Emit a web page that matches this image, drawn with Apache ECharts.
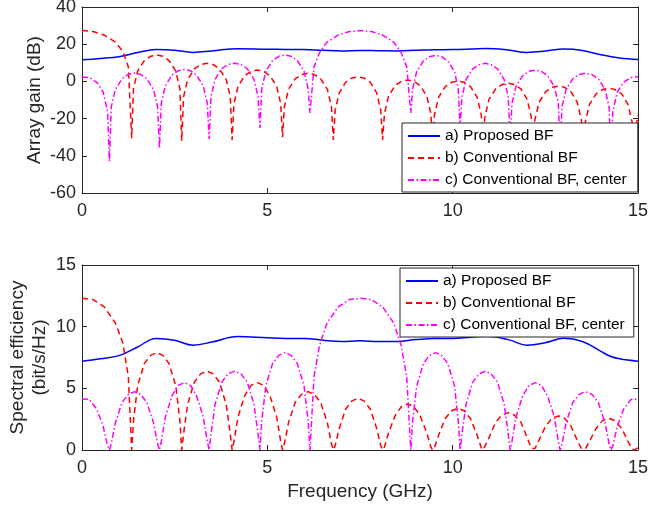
<!DOCTYPE html>
<html lang="en">
<head>
    <meta charset="UTF-8">
    <title>Array gain and spectral efficiency</title>
    <style>
        * {
            margin: 0;
            padding: 0;
        }

        body {
            background-color: #fff;
        }

        #chart {
            width: 648px;
            height: 509px;
        }
    </style>
</head>
<body>
<div id="chart"></div>
<script src="https://cdn.jsdelivr.net/npm/echarts@6/dist/echarts.min.js"></script>
<script>
    // a) proposed BF
    var freqProp = [0, 0.5, 1.0, 1.5, 2.0, 2.5, 3.0, 3.5, 4.2, 5.0, 5.5, 6.0, 6.5, 7.0, 7.5, 8.0, 8.5, 9.0, 9.5,
        10.0, 10.5, 10.9, 11.5, 12.0, 12.5, 13.0, 13.5, 14.0, 14.25, 14.5, 15];
    var gainProp = [11.6, 12.3, 13.3, 15.5, 17.2, 16.8, 15.6, 16.4, 17.6, 17.3, 17.2, 17.1, 16.7, 16.4, 16.6, 16.5,
        16.4, 16.7, 17.0, 17.1, 17.4, 17.7, 16.9, 15.6, 16.3, 17.4, 16.6, 14.3, 13.4, 12.6, 11.8];
    var seProp = [7.2, 7.4, 7.65, 8.35, 9.05, 8.9, 8.5, 8.75, 9.2, 9.1, 9.05, 9.05, 8.9, 8.8, 8.85, 8.8,
        8.8, 8.95, 9.05, 9.05, 9.15, 9.22, 8.95, 8.5, 8.7, 9.06, 8.8, 8.0, 7.6, 7.4, 7.2];

    // b) conventional BF
    var freqConv = [0, 0.3, 0.6, 0.9, 1.1, 1.25, 1.34,
        1.39, 1.50, 1.68, 1.85, 2.02, 2.18, 2.35, 2.53, 2.64, 2.69,
        2.74, 2.85, 3.03, 3.20, 3.37, 3.54, 3.71, 3.89, 4.00, 4.05,
        4.10, 4.21, 4.39, 4.56, 4.73, 4.90, 5.07, 5.25, 5.36, 5.41,
        5.46, 5.57, 5.75, 5.92, 6.10, 6.27, 6.44, 6.62, 6.73, 6.78,
        6.83, 6.94, 7.11, 7.28, 7.45, 7.61, 7.78, 7.95, 8.06, 8.11,
        8.16, 8.27, 8.45, 8.62, 8.79, 8.95, 9.12, 9.30, 9.41, 9.46,
        9.51, 9.62, 9.80, 9.97, 10.14, 10.31, 10.48, 10.66, 10.77, 10.82,
        10.87, 10.98, 11.16, 11.33, 11.50, 11.66, 11.84, 12.01, 12.12, 12.17,
        12.22, 12.33, 12.51, 12.68, 12.85, 13.02, 13.19, 13.36, 13.47, 13.52,
        13.58, 13.69, 13.87, 14.04, 14.21, 14.38, 14.56, 14.73, 14.84, 14.90, 15];
    var gainConv = [27.3, 26.8, 24.9, 21.1, 16.2, 7.8, -30.5,
        -3.8, 5.5, 11.2, 13.5, 14.2, 13.5, 11.2, 5.5, -3.8, -32,
        -8.3, 1.0, 6.7, 9.0, 9.7, 9.0, 6.7, 1.0, -8.3, -31.5,
        -11.9, -2.6, 3.1, 5.4, 6.1, 5.4, 3.1, -2.6, -11.9, -30,
        -13.6, -4.3, 1.4, 3.7, 4.4, 3.7, 1.4, -4.3, -13.6, -31.5,
        -15.5, -6.2, -0.5, 1.8, 2.5, 1.8, -0.5, -6.2, -15.5, -31.5,
        -17.2, -7.9, -2.2, 0.1, 0.8, 0.1, -2.2, -7.9, -17.2, -30,
        -17.8, -8.5, -2.8, -0.5, 0.2, -0.5, -2.8, -8.5, -17.8, -30,
        -19, -9.7, -4, -1.7, -1.0, -1.7, -4, -9.7, -19, -30,
        -20.5, -11.2, -5.5, -3.2, -2.5, -3.2, -5.5, -11.2, -20.5, -30,
        -21.7, -12.4, -6.7, -4.4, -3.7, -4.4, -6.7, -12.4, -21.7, -30, -18];
    var seConv = [12.3, 12.2, 11.6, 10.3, 8.7, 5.95, 0,
        2.4, 5.2, 7.0, 7.67, 7.9, 7.67, 7.0, 5.2, 2.4, 0,
        1.3, 3.7, 5.5, 6.17, 6.4, 6.17, 5.5, 3.7, 1.3, 0,
        0.7, 2.7, 4.4, 5.24, 5.46, 5.24, 4.4, 2.7, 0.7, 0,
        0.5, 2.2, 3.85, 4.51, 4.73, 4.51, 3.85, 2.2, 0.5, 0,
        0.36, 1.75, 3.3, 3.98, 4.19, 3.98, 3.3, 1.75, 0.36, 0,
        0.25, 1.4, 2.8, 3.53, 3.73, 3.53, 2.8, 1.4, 0.25, 0,
        0.2, 1.2, 2.55, 3.18, 3.38, 3.18, 2.55, 1.2, 0.2, 0,
        0.16, 1.0, 2.25, 2.84, 3.03, 2.84, 2.25, 1.0, 0.16, 0,
        0.12, 0.8, 1.95, 2.57, 2.76, 2.57, 1.95, 0.8, 0.12, 0,
        0.1, 0.7, 1.75, 2.38, 2.57, 2.38, 1.75, 0.7, 0.1, 0, 0.2];

    // c) conventional BF, center
    var freqCent = [0, 0.2, 0.4, 0.57, 0.69, 0.74,
        0.79, 0.90, 1.08, 1.25, 1.42, 1.58, 1.75, 1.93, 2.04, 2.09,
        2.14, 2.25, 2.43, 2.59, 2.76, 2.93, 3.09, 3.27, 3.38, 3.43,
        3.48, 3.59, 3.77, 3.94, 4.12, 4.29, 4.46, 4.64, 4.75, 4.80,
        4.85, 4.96, 5.14, 5.31, 5.48, 5.64, 5.81, 5.99, 6.10, 6.15,
        6.26, 6.41, 6.61, 6.91, 7.21, 7.51, 7.81, 8.11, 8.41, 8.61, 8.76, 8.87,
        8.92, 9.03, 9.21, 9.37, 9.54, 9.70, 9.87, 10.05, 10.15, 10.20,
        10.25, 10.36, 10.54, 10.71, 10.88, 11.04, 11.21, 11.39, 11.50, 11.55,
        11.60, 11.71, 11.89, 12.06, 12.23, 12.39, 12.56, 12.74, 12.85, 12.90,
        12.95, 13.06, 13.24, 13.41, 13.58, 13.76, 13.93, 14.11, 14.22, 14.27,
        14.32, 14.44, 14.61, 14.81, 15];
    var gainCent = [2.4, 2.1, -0.5, -5.7, -16.2, -43,
        -13.6, -4.3, 1.4, 3.8, 4.5, 3.8, 1.4, -4.3, -13.6, -36,
        -11.6, -2.3, 3.4, 5.7, 6.4, 5.7, 3.4, -2.3, -11.6, -31,
        -8.2, 1.1, 6.8, 9.1, 9.8, 9.1, 6.8, 1.1, -8.2, -25,
        -3.8, 5.5, 11.2, 13.5, 14.2, 13.5, 11.2, 5.5, -3.8, -17,
        7.8, 15.5, 21.1, 24.9, 26.8, 27.3, 26.8, 24.9, 21.1, 15.5, 7.8, -17,
        -4, 5.3, 11.0, 13.3, 14.0, 13.3, 11.0, 5.3, -4, -25,
        -8.3, 1.0, 6.7, 9.0, 9.7, 9.0, 6.7, 1.0, -8.3, -31,
        -11.9, -2.6, 3.1, 5.4, 6.1, 5.4, 3.1, -2.6, -11.9, -36,
        -13.6, -4.3, 1.4, 3.7, 4.4, 3.7, 1.4, -4.3, -13.6, -43,
        -16.2, -5.7, -0.5, 2.1, 2.5];
    var seCent = [4.13, 4.1, 3.3, 1.92, 0.33, 0,
        0.5, 2.2, 3.85, 4.51, 4.73, 4.51, 3.85, 2.2, 0.5, 0,
        0.7, 2.7, 4.4, 5.24, 5.46, 5.24, 4.4, 2.7, 0.7, 0,
        1.3, 3.7, 5.5, 6.17, 6.4, 6.17, 5.5, 3.7, 1.3, 0,
        2.4, 5.2, 7.0, 7.67, 7.9, 7.67, 7.0, 5.2, 2.4, 0,
        5.95, 8.5, 10.3, 11.6, 12.2, 12.3, 12.2, 11.6, 10.3, 8.5, 5.95, 0,
        2.4, 5.2, 7.0, 7.67, 7.9, 7.67, 7.0, 5.2, 2.4, 0,
        1.3, 3.7, 5.5, 6.17, 6.4, 6.17, 5.5, 3.7, 1.3, 0,
        0.7, 2.7, 4.4, 5.24, 5.46, 5.24, 4.4, 2.7, 0.7, 0,
        0.5, 2.2, 3.85, 4.51, 4.73, 4.51, 3.85, 2.2, 0.5, 0,
        0.33, 1.92, 3.3, 4.1, 4.13];

    var names = ['a) Proposed BF', 'b) Conventional BF', 'c) Conventional BF, center'];

    function pairs(xs, ys) {
        return xs.map(function (x, i) {
            return [x, ys[i]];
        });
    }

    var axisColor = '#262626';
    var font = '"Liberation Sans", Arial, Helvetica, sans-serif';

    function xAx(grid, pos, showLabel, extra) {
        var a = {
            type: 'value', gridIndex: grid, position: pos, min: 0, max: 15, interval: 5,
            axisLine: {show: true, onZero: false, lineStyle: {color: axisColor, width: 1}},
            axisTick: {show: true, inside: true, length: 5, lineStyle: {color: axisColor}},
            axisLabel: {show: showLabel, color: axisColor, fontSize: 18, fontFamily: font, margin: 9},
            splitLine: {show: false}
        };
        return Object.assign(a, extra || {});
    }

    function yAx(grid, pos, min, max, step, showLabel, extra) {
        var a = {
            type: 'value', gridIndex: grid, position: pos, min: min, max: max, interval: step,
            axisLine: {show: true, onZero: false, lineStyle: {color: axisColor, width: 1}},
            axisTick: {show: true, inside: true, length: 5, lineStyle: {color: axisColor}},
            axisLabel: {show: showLabel, color: axisColor, fontSize: 18, fontFamily: font, margin: 6},
            splitLine: {show: false}
        };
        return Object.assign(a, extra || {});
    }

    var styles = [
        {color: '#0000ff', width: 1.5, type: 'solid'},
        {color: '#ff0000', width: 1.5, type: [6, 4]},
        {color: '#ff00ff', width: 1.5, type: [6, 2.5, 1.5, 2.5]}
    ];

    function lineSeries(i, grid, data) {
        return {
            name: names[i], type: 'line', xAxisIndex: grid, yAxisIndex: grid,
            data: data, showSymbol: false, symbol: 'none', animation: false,
            smooth: i === 0 ? 0.4 : false,
            lineStyle: styles[i], itemStyle: {color: styles[i].color}
        };
    }

    function legendAt(left, top, padRight) {
        return {
            data: names, orient: 'vertical', left: left, top: top,
            itemWidth: 32, itemHeight: 14, itemGap: 6,
            padding: [5, padRight, 4, 5],
            backgroundColor: '#fff', borderColor: axisColor, borderWidth: 1, borderRadius: 0,
            itemStyle: {opacity: 0},
            textStyle: {fontSize: 15.5, fontFamily: font, color: '#000'},
            selectedMode: false
        };
    }

    var chart = echarts.init(document.getElementById('chart'));
    chart.setOption({
        backgroundColor: '#fff',
        animation: false,
        grid: [
            {left: 82, top: 7, width: 556, height: 186, outerBoundsMode: 'none', containLabel: false},
            {left: 82, top: 265, width: 556, height: 185, outerBoundsMode: 'none', containLabel: false}
        ],
        legend: [legendAt(402, 123, 11), legendAt(400, 268, 9)],
        xAxis: [
            xAx(0, 'bottom', true),
            xAx(1, 'bottom', true, {
                name: 'Frequency (GHz)', nameLocation: 'middle', nameGap: 32, nameMoveOverlap: false,
                nameTextStyle: {fontSize: 19, fontFamily: font, color: axisColor}
            }),
            xAx(0, 'top', false),
            xAx(1, 'top', false)
        ],
        yAxis: [
            yAx(0, 'left', -60, 40, 20, true, {
                name: 'Array gain (dB)', nameLocation: 'middle', nameGap: 38, nameMoveOverlap: false,
                nameTextStyle: {fontSize: 19, fontFamily: font, color: axisColor}
            }),
            yAx(1, 'left', 0, 15, 5, true, {
                name: 'Spectral efficiency\n(bit/s/Hz)', nameLocation: 'middle', nameGap: 31, nameMoveOverlap: false,
                nameTextStyle: {fontSize: 19, fontFamily: font, color: axisColor, lineHeight: 22}
            }),
            yAx(0, 'right', -60, 40, 20, false),
            yAx(1, 'right', 0, 15, 5, false)
        ],
        series: [
            lineSeries(0, 0, pairs(freqProp, gainProp)),
            lineSeries(1, 0, pairs(freqConv, gainConv)),
            lineSeries(2, 0, pairs(freqCent, gainCent)),
            lineSeries(0, 1, pairs(freqProp, seProp)),
            lineSeries(1, 1, pairs(freqConv, seConv)),
            lineSeries(2, 1, pairs(freqCent, seCent))
        ]
    });
</script>
</body>
</html>
